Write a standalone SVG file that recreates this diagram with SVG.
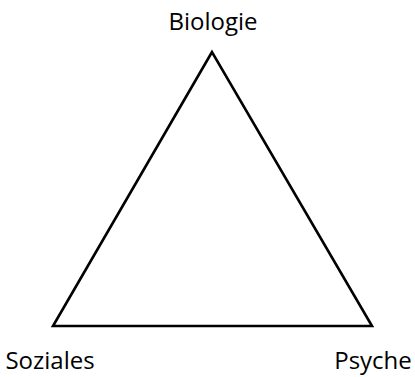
<svg xmlns="http://www.w3.org/2000/svg" width="415" height="377" viewBox="0 0 415 377">
<style>
.lbl{font-family:"Open Sans","Liberation Sans",sans-serif;font-size:24px;font-weight:500;fill:#000}
.edge{fill:none;stroke:#000;stroke-width:2.6;stroke-linejoin:miter}
</style>
<rect width="415" height="377" fill="#fff"/>
<g id="connectors">
<polygon class="edge" points="212,52 53,326 372,326"/>
</g>
<g id="node-biologie"><text class="lbl" x="213" y="30" text-anchor="middle">Biologie</text></g>
<g id="node-soziales"><text class="lbl" x="50" y="369" text-anchor="middle">Soziales</text></g>
<g id="node-psyche"><text class="lbl" x="373" y="369" text-anchor="middle">Psyche</text></g>
</svg>
